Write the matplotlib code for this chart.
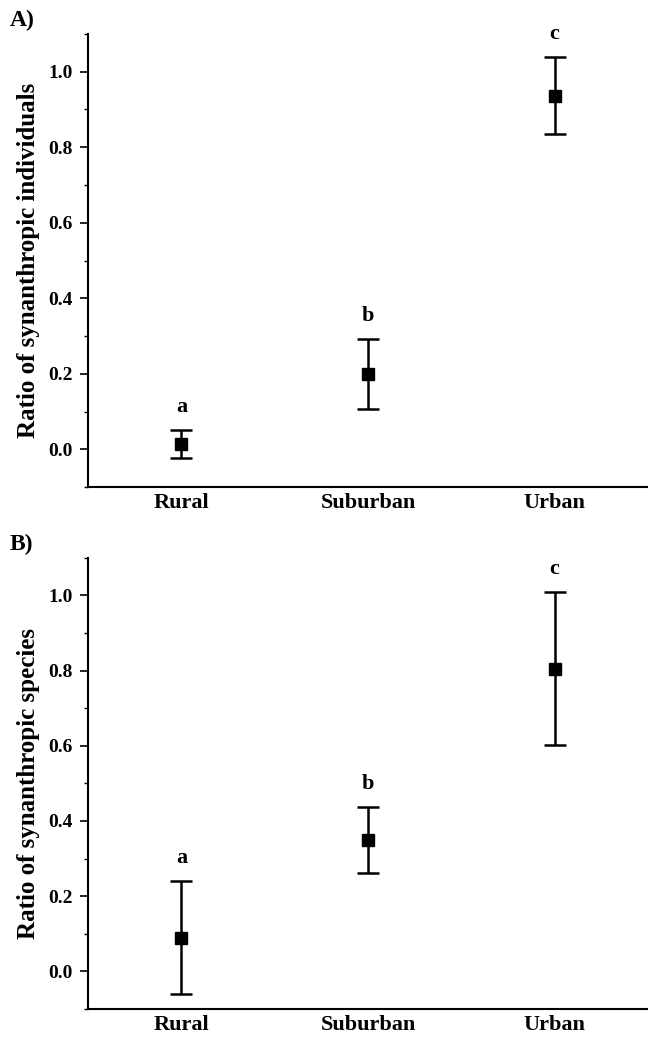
import matplotlib
matplotlib.use("Agg")
import matplotlib.pyplot as plt
from matplotlib.ticker import MultipleLocator

categories = ["Rural", "Suburban", "Urban"]
letters = ["a", "b", "c"]

ind_mean = [0.013, 0.200, 0.937]
ind_err = [0.037, 0.093, 0.103]

spp_mean = [0.090, 0.349, 0.805]
spp_err = [0.151, 0.088, 0.203]

panels = [
    ("A)", "Ratio of synanthropic individuals", ind_mean, ind_err),
    ("B)", "Ratio of synanthropic species", spp_mean, spp_err),
]

plt.rcParams['font.family'] = ['Liberation Serif', 'DejaVu Serif']
plt.rcParams['font.weight'] = 'bold'

fig = plt.figure(figsize=(6.48, 10.42), dpi=100)
rects = [[0.1358, 0.5326, 0.8642, 0.4348], [0.1358, 0.0317, 0.8642, 0.4331]]

for (tag, ylabel, mean, err), rect in zip(panels, rects):
    ax = fig.add_axes(rect)
    x = list(range(1, len(categories) + 1))
    ax.errorbar(x, mean, yerr=err, fmt='s', color='black', ms=8,
                elinewidth=1.8, capsize=8, capthick=1.8)
    for xi, m, e, l in zip(x, mean, err, letters):
        ax.annotate(l, (xi, m + e), xytext=(0, 13), textcoords='offset points',
                    ha='center', va='baseline', fontsize=16, fontweight='bold')
    ax.set_xlim(0.5, 3.5)
    ax.set_ylim(-0.1, 1.1)
    ax.set_xticks(x)
    ax.set_xticklabels(categories, fontsize=16, fontweight='bold')
    ax.set_yticks([0.0, 0.2, 0.4, 0.6, 0.8, 1.0])
    ax.set_yticklabels(["0.0", "0.2", "0.4", "0.6", "0.8", "1.0"], fontsize=14, fontweight='bold')
    ax.yaxis.set_minor_locator(MultipleLocator(0.1))
    ax.tick_params(axis='x', length=0, pad=4)
    ax.tick_params(axis='y', which='major', length=6, width=1.2, pad=5, direction='out')
    ax.tick_params(axis='y', which='minor', length=3, width=1.0, direction='out')
    for s in ['top', 'right']:
        ax.spines[s].set_visible(False)
    for s in ['left', 'bottom']:
        ax.spines[s].set_linewidth(1.5)
    ax.set_ylabel(ylabel, fontsize=18, fontweight='bold', labelpad=6)
    fig.text(0.015, rect[1] + rect[3] + 0.003, tag, fontsize=17, fontweight='bold',
             ha='left', va='bottom')

fig.savefig("out.png", dpi=100)
